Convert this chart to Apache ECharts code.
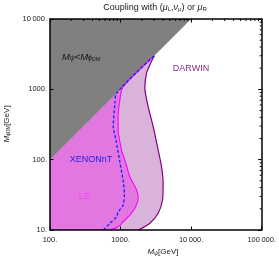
<!DOCTYPE html>
<html><head><meta charset="utf-8">
<script src="https://cdn.jsdelivr.net/npm/echarts@6/dist/echarts.min.js"></script>
<style>html,body{margin:0;padding:0;background:#fff}#c{width:279px;height:261px}</style>
</head><body><div id="c"></div>
<script>
// ---- data (GeV) ----
const xRange = [100, 100000];          // M_psi
const yRange = [10, 10000];            // M_phiDM
const xTickValues = [100, 1000, 10000, 100000];
const xTickLabels = ['100.', '1000.', '10\u2009000.', '100\u2009000.'];
const yTickValues = [10, 100, 1000, 10000];
const yTickLabels = ['10.', '100.', '1000.', '10\u2009000.'];
const minorMultipliers = [2, 3, 4, 5, 6, 7, 8, 9];

// forbidden region M_psi < M_phiDM
const forbiddenM = [100, 10000, 100];
const forbiddenPhi = [100, 10000, 10000];

// DARWIN boundary (bottom -> top)
const darwinM   = [1800, 2600, 3410, 3930, 4010, 3810, 3410, 2900, 2460, 2210, 2330, 2600, 3000];
const darwinPhi = [10, 12.5, 17.3, 26.7, 46, 79, 137, 294, 566, 1045, 1690, 2220, 3000];

// LZ boundary (bottom -> top)
const lzM   = [706, 925, 1089, 1355, 1596, 1776, 1686, 1355, 1150, 1034, 925, 925, 978, 1080, 3000];
const lzPhi = [10, 11.1, 13.1, 16.3, 20.4, 28.2, 37, 57.3, 99, 137, 264, 408, 705, 1080, 3000];

// XENONnT boundary (bottom -> top)
const xeM   = [571, 706, 879, 925, 1089, 1132, 1089, 978, 860, 787, 832, 870, 3000];
const xePhi = [10, 12.4, 15.5, 18, 22.7, 32.5, 49.8, 92.7, 190, 294, 633, 870, 3000];

const zip = (a, b) => a.map((v, i) => [v, b[i]]);
const darwinPts = zip(darwinM, darwinPhi);
const lzPts = zip(lzM, lzPhi);
const xePts = zip(xeM, xePhi);
const forbiddenPts = zip(forbiddenM, forbiddenPhi);
const darwinRegion = [[xRange[0], yRange[0]]].concat(darwinPts, [[100, 100]]);
const lzRegion = [[xRange[0], yRange[0]]].concat(lzPts, [[100, 100]]);

const FONT = '"Liberation Sans", Arial, Helvetica, sans-serif';

function polySeries(pts, color, z) {
  return {
    type: 'custom', coordinateSystem: 'cartesian2d', silent: true, z: z,
    data: [pts[0]],
    renderItem: (params, api) => ({
      type: 'polygon',
      shape: { points: pts.map(p => api.coord(p)) },
      style: { fill: color, stroke: null }
    })
  };
}
function lineSeries(pts, color, type, width, z) {
  return {
    type: 'line', data: pts, showSymbol: false, symbol: 'none', smooth: 0.25, silent: true, z: z,
    lineStyle: { color: color, width: width, type: type }
  };
}

const chart = echarts.init(document.getElementById('c'), null, { renderer: 'canvas' });
const labelFmt = (vals, labs) => v => {
  const e = Math.round(Math.log10(v));
  const i = vals.findIndex(t => Math.round(Math.log10(t)) === e);
  return i >= 0 ? labs[i] : '';
};
const frameLine = { show: true, onZero: false, lineStyle: { color: '#000', width: 1.5 } };
const majorTick = { show: true, inside: true, length: 3.5, lineStyle: { color: '#000', width: 1 } };

chart.setOption({
  animation: false,
  grid: { left: 50, top: 19, right: 17, bottom: 31, containLabel: false },
  xAxis: [{
    type: 'log', logBase: 10, min: xRange[0], max: xRange[1], z: 20,
    axisLine: frameLine, axisTick: majorTick,
    axisLabel: { formatter: labelFmt(xTickValues, xTickLabels), fontSize: 7.5, fontFamily: FONT, color: '#222', margin: 6, showMinLabel: true, showMaxLabel: true },
    splitLine: { show: false }, minorTick: { show: false }
  }, {
    type: 'log', logBase: 10, min: xRange[0], max: xRange[1], position: 'top', z: 20,
    axisLine: frameLine, axisTick: majorTick,
    axisLabel: { show: false }, splitLine: { show: false }
  }],
  yAxis: [{
    type: 'log', logBase: 10, min: yRange[0], max: yRange[1], z: 20,
    axisLine: frameLine, axisTick: majorTick,
    axisLabel: { formatter: labelFmt(yTickValues, yTickLabels), fontSize: 7.5, fontFamily: FONT, color: '#222', margin: 3, showMinLabel: true, showMaxLabel: true },
    splitLine: { show: false }
  }, {
    type: 'log', logBase: 10, min: yRange[0], max: yRange[1], position: 'right', z: 20,
    axisLine: frameLine, axisTick: majorTick,
    axisLabel: { show: false }, splitLine: { show: false }
  }],
  series: [
    polySeries(darwinRegion, '#d9b3d9', 1),
    polySeries(lzRegion, '#e277e2', 2),
    polySeries(forbiddenPts, '#808080', 3),
    lineSeries(darwinPts, '#800080', 'solid', 1.2, 5),
    lineSeries(lzPts, '#ff00ff', 'solid', 1.1, 6),
    lineSeries(xePts, '#1a1aff', [3, 2], 1.3, 7),
    {
      type: 'custom', coordinateSystem: 'cartesian2d', silent: true, z: 10, clip: false,
      data: [[xRange[0], yRange[0]]],
      renderItem: (params, api) => {
        const children = [];
        const top = api.coord([xRange[0], yRange[1]])[1];
        const right = api.coord([xRange[1], yRange[0]])[0];
        xTickValues.slice(0, -1).forEach(d => minorMultipliers.forEach(k => {
          const x = api.coord([d * k, yRange[1]])[0];
          children.push({ type: 'line', shape: { x1: x, y1: top, x2: x, y2: top + 2 }, style: { stroke: '#000', lineWidth: 1 } });
        }));
        yTickValues.slice(0, -1).forEach(d => minorMultipliers.forEach(k => {
          const y = api.coord([xRange[1], d * k])[1];
          children.push({ type: 'line', shape: { x1: right, y1: y, x2: right - 2, y2: y }, style: { stroke: '#000', lineWidth: 1 } });
        }));
        return { type: 'group', children };
      }
    }
  ],
  graphic: [
    { type: 'text', x: 155, y: 3, style: {
      align: 'center',
      text: 'Coupling with ({i|μ}{s|L}{n|,}{i|ν}{s|μ}{n|) or }{i|μ}{s|R}',
      fontFamily: FONT, fontSize: 9, fill: '#222',
      rich: { i: { fontStyle: 'italic', fontSize: 9, fontFamily: FONT, fill: '#222' },
              s: { fontSize: 6, verticalAlign: 'bottom', fontFamily: FONT, fill: '#222' },
              n: { fontSize: 9, fontFamily: FONT, fill: '#222' } }
    } },
    { type: 'text', x: 163, y: 252, style: {
      text: '{i|M}{s|ψ}{n|[GeV]}', align: 'center', verticalAlign: 'middle', fontFamily: FONT, fontSize: 8, fill: '#222',
      rich: { i: { fontStyle: 'italic', fontSize: 8, fontFamily: FONT, fill: '#222' },
              s: { fontStyle: 'italic', fontSize: 5.5, verticalAlign: 'bottom', fontFamily: FONT, fill: '#222' },
              n: { fontSize: 8, fontFamily: FONT, fill: '#222' } }
    } },
    { type: 'text', x: 7, y: 124, rotation: Math.PI / 2, style: {
      text: '{i|M}{s|ϕ}{ss|DM}{n|[GeV]}', align: 'center', verticalAlign: 'middle', fontFamily: FONT, fontSize: 8, fill: '#222',
      rich: { i: { fontStyle: 'italic', fontSize: 8, fontFamily: FONT, fill: '#222' },
              s: { fontSize: 5.5, verticalAlign: 'bottom', fontFamily: FONT, fill: '#222' },
              ss: { fontSize: 4.5, verticalAlign: 'bottom', fontFamily: FONT, fill: '#222' },
              n: { fontSize: 8, fontFamily: FONT, fill: '#222' } }
    } },
    { type: 'text', x: 62, y: 57, z: 20, style: {
      text: '{i|M}{s|ψ}{n|<}{i|M}{s|ϕ}{ss|DM}', verticalAlign: 'middle', fontFamily: FONT, fontSize: 9.5, fill: '#111',
      rich: { i: { fontStyle: 'italic', fontSize: 9.5, fontFamily: FONT, fill: '#111' },
              s: { fontStyle: 'italic', fontSize: 6.5, verticalAlign: 'bottom', fontFamily: FONT, fill: '#111' },
              ss: { fontSize: 5.5, verticalAlign: 'bottom', fontFamily: FONT, fill: '#111' },
              n: { fontSize: 9.5, fontFamily: FONT, fill: '#111' } }
    } },
    { type: 'text', x: 191, y: 69, z: 20, style: { text: 'DARWIN', align: 'center', verticalAlign: 'middle', fontFamily: FONT, fontSize: 9, fill: '#8b2a8b' } },
    { type: 'text', x: 91, y: 160, z: 20, style: { text: 'XENONnT', align: 'center', verticalAlign: 'middle', fontFamily: FONT, fontSize: 9, fill: '#2222dd' } },
    { type: 'text', x: 84, y: 197, z: 20, style: { text: 'LZ', align: 'center', verticalAlign: 'middle', fontFamily: FONT, fontSize: 9, fill: '#ff40ff' } }
  ]
});
</script></body></html>
